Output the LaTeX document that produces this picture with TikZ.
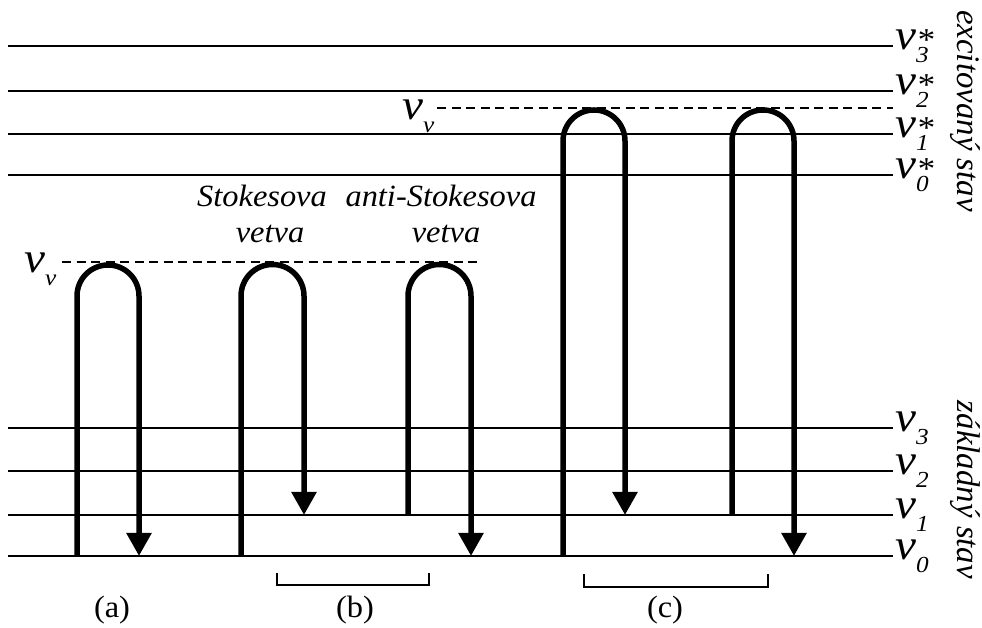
\documentclass[tikz,border=0pt]{standalone}
\usepackage{fontspec}
\setmainfont{Liberation Serif}
\usetikzlibrary{arrows.meta}
\newcommand{\vlab}[2]{{\fontsize{43}{43}\selectfont\itshape v}{\fontsize{23}{23}\selectfont\itshape\rlap{\raisebox{-1bp}{\fontsize{32}{32}\selectfont #2}}\raisebox{-13bp}{#1}}}
\begin{document}
\begin{tikzpicture}[x=1bp,y=1bp,
  level/.style={line width=2.6bp},
  vib/.style={line width=5.5bp},
  arr/.style={vib, -{Triangle[width=24bp,length=23bp]}},
  virt/.style={line width=1.4bp, dash pattern=on 9bp off 5.5bp},
  brk/.style={line width=1.8bp},
  lab/.style={font=\fontsize{31}{31}\selectfont, xscale=1.05, inner sep=0pt},
  ilab/.style={font=\fontsize{31}{31}\selectfont\itshape, xscale=1.05, inner sep=0pt},
  vl/.style={anchor=base west, inner sep=0pt, xscale=1.1},
  side/.style={font=\fontsize{33}{33}\selectfont\itshape, rotate=-90, inner sep=0pt}]
\useasboundingbox (0,0) rectangle (982,628);
% energy levels
\foreach \yy in {582,537,494,453,200,157,113,72}
  \draw[level] (8,\yy) -- (893,\yy);
% virtual levels
\draw[virt] (62,366) -- (478,366);
\draw[virt] (437,520) -- (893,520);
% transitions
\draw[arr] (77,72) -- (77,332) arc[start angle=180,end angle=0,radius=31] -- (139,72);
\draw[arr] (241,72) -- (241,332) arc[start angle=180,end angle=0,radius=31.5] -- (304,113);
\draw[arr] (408,113) -- (408,332) arc[start angle=180,end angle=0,radius=31.5] -- (471,72);
\draw[arr] (563,72) -- (563,487) arc[start angle=180,end angle=0,radius=31] -- (625,113);
\draw[arr] (732,113) -- (732,487) arc[start angle=180,end angle=0,radius=31] -- (794,72);
% brackets
\draw[brk] (277,55) -- (277,43) -- (429,43) -- (429,55);
\draw[brk] (584,54) -- (584,41) -- (768,41) -- (768,54);
% labels
\node[lab, anchor=base] (la) at (112,10) {(a)};
\node[lab, anchor=base] (lb) at (355,10) {(b)};
\node[lab, anchor=base] (lc) at (665,10) {(c)};
\node[ilab, anchor=base] (st1) at (262,421) {Stokesova};
\node[ilab, anchor=base] (st2) at (270,385) {vetva};
\node[ilab, anchor=base] (as1) at (441,421) {anti-Stokesova};
\node[ilab, anchor=base] (as2) at (446,385) {vetva};
\node[vl] (vv1) at (24,355) {\vlab{v}{}};
\node[vl] (vv2) at (402,508) {\vlab{v}{}};
\node[vl] (v3s) at (895,578) {\vlab{3}{*}};
\node[vl] (v2s) at (895,533) {\vlab{2}{*}};
\node[vl] (v1s) at (895,490) {\vlab{1}{*}};
\node[vl] (v0s) at (895,449) {\vlab{0}{*}};
\node[vl] (v3) at (895,196) {\vlab{3}{}};
\node[vl] (v2) at (895,153) {\vlab{2}{}};
\node[vl] (v1) at (895,109) {\vlab{1}{}};
\node[vl] (v0) at (895,68) {\vlab{0}{}};
\node[side] (exc) at (965,517) {excitovaný stav};
\node[side] (zak) at (965,138) {základný stav};
\end{tikzpicture}
\end{document}
